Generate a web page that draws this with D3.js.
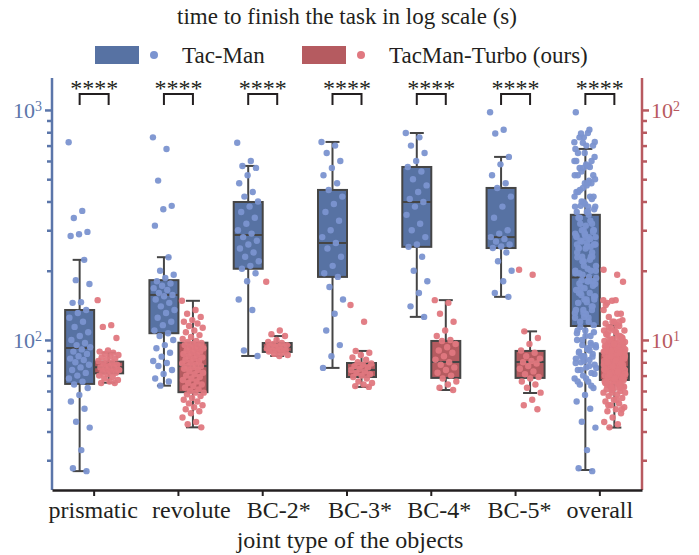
<!DOCTYPE html>
<html>
<head>
<meta charset="utf-8">
<script src="https://cdn.jsdelivr.net/npm/d3@7"></script>
<style>
  body { margin: 0; background: #fff; }
  text { font-family: "Liberation Serif", "Times New Roman", serif; }
</style>
</head>
<body>
<div id="container"></div>
<script>
/* CONSTANTS AND GLOBALS */
const width = 699;
const height = 555;

const categories = ["prismatic", "revolute", "BC-2*", "BC-3*", "BC-4*", "BC-5*", "overall"];
const seriesNames = ["Tac-Man", "TacMan-Turbo (ours)"];

// box statistics (seconds)
const tacManLo  = [26.9, 63.3, 85.2, 75.6, 126, 154, 27.2];
const tacManQ1  = [64.4, 107, 204, 188, 254, 251, 115];
const tacManMed = [92.3, 157, 286, 264, 398, 280, 187];
const tacManQ3  = [135, 182, 398, 449, 565, 458, 350];
const tacManHi  = [223, 229, 571, 726, 794, 625, 677];

const turboLo  = [6.52, 4.17, 8.52, 6.25, 6.06, 5.88, 4.16];
const turboQ1  = [7.16, 5.93, 8.87, 6.9, 6.84, 6.84, 6.7];
const turboMed = [7.61, 7.7, 9.32, 7.41, 8.02, 8.02, 7.61];
const turboQ3  = [8.05, 9.73, 9.7, 7.94, 9.9, 8.96, 8.75];
const turboHi  = [8.81, 14.8, 10.4, 8.96, 14.9, 10.9, 11.6];

// individual trials (seconds)
const tacManPrismatic = [724, 364, 339, 295, 288, 283, 223, 182, 175, 146, 145, 135, 131, 125, 120, 114, 108, 104, 100, 97, 95, 93, 91, 89, 87, 85, 83, 81.8, 80, 78, 76, 74, 71.9, 70, 68, 65.9, 64, 61.8, 57.7, 54, 50.2, 44.1, 41.6, 33.2, 27.7, 26.9];
const tacManRevolute = [760, 676, 493, 383, 370, 314, 229, 200, 192, 186, 180, 176, 172, 168, 165, 160, 157, 155, 150, 145, 140, 135, 131, 125, 120, 116, 110, 107, 104, 100, 95, 92, 88, 84.6, 81, 79.4, 77.1, 74, 71.2, 68, 66, 63.3];
const tacManBC2 = [720, 600, 571, 560, 520, 480, 440, 420, 400, 380, 360, 340, 320, 300, 290, 280, 270, 260, 250, 240, 230, 220, 210, 204, 195, 180, 150, 135, 90, 85.2];
const tacManBC3 = [726, 700, 650, 600, 560, 520, 480, 449, 420, 390, 360, 330, 300, 280, 264, 250, 230, 210, 195, 188, 170, 150, 130, 110, 95, 85, 75.6];
const tacManBC4 = [794, 760, 700, 650, 600, 565, 540, 500, 470, 440, 410, 398, 380, 350, 320, 300, 280, 260, 254, 230, 200, 180, 160, 140, 126];
const tacManBC5 = [977, 820, 790, 625, 580, 520, 480, 458, 420, 380, 340, 300, 290, 280, 275, 268, 260, 255, 251, 240, 220, 200, 180, 160, 154];

const turboPrismatic = [14.9, 11.6, 11.4, 10.2, 9.0, 8.9, 8.8, 8.7, 8.6, 8.5, 8.4, 8.3, 8.2, 8.1, 8.0, 7.9, 7.8, 7.7, 7.6, 7.6, 7.5, 7.4, 7.3, 7.2, 7.2, 7.1, 7.0, 6.9, 6.8, 6.7, 6.6, 6.5, 6.5];
const turboRevolute = [14.8, 13.5, 13.0, 12.6, 12.2, 12.0, 11.8, 11.5, 11.3, 11.0, 10.8, 10.5, 10.3, 10.1, 9.9, 9.8, 9.7, 9.6, 9.5, 9.4, 9.3, 9.2, 9.1, 9.0, 8.9, 8.8, 8.7, 8.6, 8.5, 8.4, 8.3, 8.2, 8.1, 8.0, 7.9, 7.8, 7.7, 7.7, 7.6, 7.5, 7.4, 7.3, 7.2, 7.1, 7.0, 6.9, 6.8, 6.7, 6.6, 6.5, 6.4, 6.3, 6.2, 6.1, 6.0, 5.9, 5.9, 5.8, 5.7, 5.6, 5.5, 5.4, 5.3, 5.2, 5.1, 5.0, 4.9, 4.8, 4.6, 4.4, 4.3, 4.17];
const turboBC2 = [17.9, 11.0, 10.6, 10.4, 10.0, 9.8, 9.7, 9.6, 9.5, 9.4, 9.4, 9.3, 9.3, 9.2, 9.1, 9.0, 9.0, 8.9, 8.9, 8.8, 8.7, 8.6, 8.52];
const turboBC3 = [14.2, 12.0, 8.96, 8.8, 8.6, 8.4, 8.2, 8.0, 7.9, 7.8, 7.7, 7.6, 7.5, 7.4, 7.3, 7.2, 7.1, 7.0, 6.9, 6.8, 6.6, 6.5, 6.4, 6.3, 6.25];
const turboBC4 = [14.9, 14.5, 13.0, 12.0, 11.0, 10.4, 10.0, 9.9, 9.6, 9.3, 9.0, 8.8, 8.5, 8.2, 8.0, 7.8, 7.6, 7.4, 7.2, 7.0, 6.8, 6.6, 6.4, 6.2, 6.06];
const turboBC5 = [20.2, 19.2, 10.9, 10.2, 9.6, 9.0, 8.8, 8.5, 8.3, 8.1, 8.0, 7.9, 7.7, 7.5, 7.3, 7.1, 6.9, 6.8, 6.6, 6.4, 6.2, 5.9, 5.5, 5.2, 5.0];

const leftMajor = [100, 1000];
const leftMinor = [30, 40, 50, 60, 70, 80, 90, 200, 300, 400, 500, 600, 700, 800, 900];
const rightMajor = [10, 100];
const rightMinor = [3, 4, 5, 6, 7, 8, 9, 20, 30, 40, 50, 60, 70, 80, 90];

// the tick labels in the figure sit a little right of their ticks
const labelShift = [-1, 13, 16, 13, 8, 4, 0];

const blueBox = "#5772a3", bluePt = "#7b94d0", blueAxis = "#5b76aa";
const redBox = "#b55b60", redPt = "#e07880", redAxis = "#b85a60";
const ink = "#231f20", boxStroke = "#454545";

const margin = {left: 52, right: 57, top: 78, bottom: 65};

// overall = every trial pooled
const tacManPoints = [tacManPrismatic, tacManRevolute, tacManBC2, tacManBC3, tacManBC4, tacManBC5];
tacManPoints.push(tacManPoints.flat());
const turboPoints = [turboPrismatic, turboRevolute, turboBC2, turboBC3, turboBC4, turboBC5];
turboPoints.push(turboPoints.flat());

const svg = d3.select("#container")
  .append("svg")
  .attr("width", width)
  .attr("height", height);

/* SCALES */
const xScale = d3.scaleBand()
  .domain(categories)
  .range([margin.left, width - margin.right]);

const yLeft = d3.scaleLog()
  .domain([22.27, 1377])
  .range([height - margin.bottom, margin.top]);

const yRight = d3.scaleLog()
  .domain([2.227, 137.7])
  .range([height - margin.bottom, margin.top]);

const boxW = 29;

function supLabel(sel) {
  sel.selectAll(".tick text").each(function(d) {
    const t = d3.select(this);
    t.text("");
    t.append("tspan").text("10");
    t.append("tspan").attr("dy", "-0.45em").attr("font-size", 14).text(Math.round(Math.log10(d)));
  });
}

/* AXES */
const gLeftMinor = svg.append("g")
  .attr("transform", `translate(${margin.left},0)`)
  .call(d3.axisLeft(yLeft).tickValues(leftMinor).tickSize(5).tickFormat(""));
const gLeft = svg.append("g")
  .attr("transform", `translate(${margin.left},0)`)
  .call(d3.axisLeft(yLeft).tickValues(leftMajor).tickSize(7).tickPadding(3).tickSizeOuter(0))
  .call(supLabel);
[gLeftMinor, gLeft].forEach(g => {
  g.select(".domain").attr("stroke", blueAxis).attr("stroke-width", 2.5);
  g.selectAll(".tick line").attr("stroke", blueAxis).attr("stroke-width", 2.5);
  g.selectAll(".tick text").attr("fill", blueAxis).attr("font-size", 22);
});
gLeftMinor.select(".domain").attr("d", `M0,${height - margin.bottom}V${margin.top}`);
gLeft.select(".domain").remove();

const gRightMinor = svg.append("g")
  .attr("transform", `translate(${width - margin.right},0)`)
  .call(d3.axisRight(yRight).tickValues(rightMinor).tickSize(5).tickFormat(""));
const gRight = svg.append("g")
  .attr("transform", `translate(${width - margin.right},0)`)
  .call(d3.axisRight(yRight).tickValues(rightMajor).tickSize(7).tickPadding(2).tickSizeOuter(0))
  .call(supLabel);
[gRightMinor, gRight].forEach(g => {
  g.select(".domain").attr("stroke", redAxis).attr("stroke-width", 2.5);
  g.selectAll(".tick line").attr("stroke", redAxis).attr("stroke-width", 2.5);
  g.selectAll(".tick text").attr("fill", redAxis).attr("font-size", 22);
});
gRightMinor.select(".domain").attr("d", `M0,${height - margin.bottom}V${margin.top}`);
gRight.select(".domain").remove();

const gx = svg.append("g")
  .attr("transform", `translate(0,${height - margin.bottom})`)
  .call(d3.axisBottom(xScale).tickSize(6).tickPadding(5).tickSizeOuter(0));
gx.select(".domain").attr("stroke", ink).attr("stroke-width", 2.5);
gx.selectAll(".tick line").attr("stroke", ink).attr("stroke-width", 2);
gx.selectAll(".tick text").attr("fill", ink).attr("font-size", 24)
  .attr("dx", (d, i) => labelShift[i]);

/* BOXES */
const boxes = [];
categories.forEach((c, i) => {
  boxes.push({cat: c, s: 0, lo: tacManLo[i], q1: tacManQ1[i], med: tacManMed[i], q3: tacManQ3[i], hi: tacManHi[i], pts: tacManPoints[i], y: yLeft});
  boxes.push({cat: c, s: 1, lo: turboLo[i], q1: turboQ1[i], med: turboMed[i], q3: turboQ3[i], hi: turboHi[i], pts: turboPoints[i], y: yRight});
});
const cx = d => xScale(d.cat) + xScale.bandwidth() / 2 + (d.s === 0 ? -boxW / 2 : boxW / 2);

const gb = svg.selectAll(".box")
  .data(boxes)
  .join("g")
  .attr("class", "box");

gb.append("line")
  .attr("x1", cx).attr("x2", cx)
  .attr("y1", d => d.y(d.hi)).attr("y2", d => d.y(d.lo))
  .attr("stroke", boxStroke).attr("stroke-width", 2);
gb.selectAll(".cap")
  .data(d => [d.hi, d.lo].map(v => ({d, v})))
  .join("line")
  .attr("class", "cap")
  .attr("x1", e => cx(e.d) - 7).attr("x2", e => cx(e.d) + 7)
  .attr("y1", e => e.d.y(e.v)).attr("y2", e => e.d.y(e.v))
  .attr("stroke", boxStroke).attr("stroke-width", 2);
gb.append("rect")
  .attr("x", d => cx(d) - boxW / 2)
  .attr("width", boxW)
  .attr("y", d => d.y(d.q3))
  .attr("height", d => d.y(d.q1) - d.y(d.q3))
  .attr("fill", d => d.s === 0 ? blueBox : redBox)
  .attr("stroke", boxStroke).attr("stroke-width", 2);
gb.append("line")
  .attr("x1", d => cx(d) - boxW / 2).attr("x2", d => cx(d) + boxW / 2)
  .attr("y1", d => d.y(d.med)).attr("y2", d => d.y(d.med))
  .attr("stroke", boxStroke).attr("stroke-width", 2);

// jittered points (spread is layout only)
gb.selectAll(".pt")
  .data(d => d.pts.map((v, k) => ({d, v, k})))
  .join("circle")
  .attr("class", "pt")
  .attr("cx", e => cx(e.d) + (((e.k * 0.6180339) % 1) - 0.5) * 22)
  .attr("cy", e => e.d.y(e.v))
  .attr("r", 3.2)
  .attr("fill", e => e.d.s === 0 ? bluePt : redPt)
  .attr("fill-opacity", 0.95);

/* SIGNIFICANCE */
const sig = svg.selectAll(".sig")
  .data(categories)
  .join("g")
  .attr("class", "sig");
sig.append("path")
  .attr("d", c => {
    const m = xScale(c) + xScale.bandwidth() / 2;
    return `M${m - boxW / 2},105V94H${m + boxW / 2}V105`;
  })
  .attr("fill", "none").attr("stroke", ink).attr("stroke-width", 2);
sig.append("text")
  .attr("x", c => xScale(c) + xScale.bandwidth() / 2)
  .attr("y", 96)
  .attr("text-anchor", "middle")
  .attr("font-size", 24)
  .attr("fill", ink)
  .text("****");

/* TITLES */
svg.append("text")
  .attr("x", 347).attr("y", 24)
  .attr("text-anchor", "middle")
  .attr("font-size", 23).attr("fill", ink)
  .text("time to finish the task in log scale (s)");
svg.append("text")
  .attr("x", 350).attr("y", 548)
  .attr("text-anchor", "middle")
  .attr("font-size", 24).attr("fill", ink)
  .text("joint type of the objects");

/* LEGEND */
const legendX = [95, 302];
const lg = svg.selectAll(".legend")
  .data(seriesNames)
  .join("g")
  .attr("class", "legend")
  .attr("transform", (d, i) => `translate(${legendX[i]},46)`);
lg.append("rect")
  .attr("width", 44).attr("height", 18)
  .attr("fill", (d, i) => i === 0 ? blueBox : redBox);
lg.append("circle")
  .attr("cx", 59).attr("cy", 9).attr("r", 4)
  .attr("fill", (d, i) => i === 0 ? bluePt : redPt);
lg.append("text")
  .attr("x", 87).attr("y", 17)
  .attr("font-size", 23).attr("fill", ink)
  .text(d => d);
</script>
</body>
</html>
